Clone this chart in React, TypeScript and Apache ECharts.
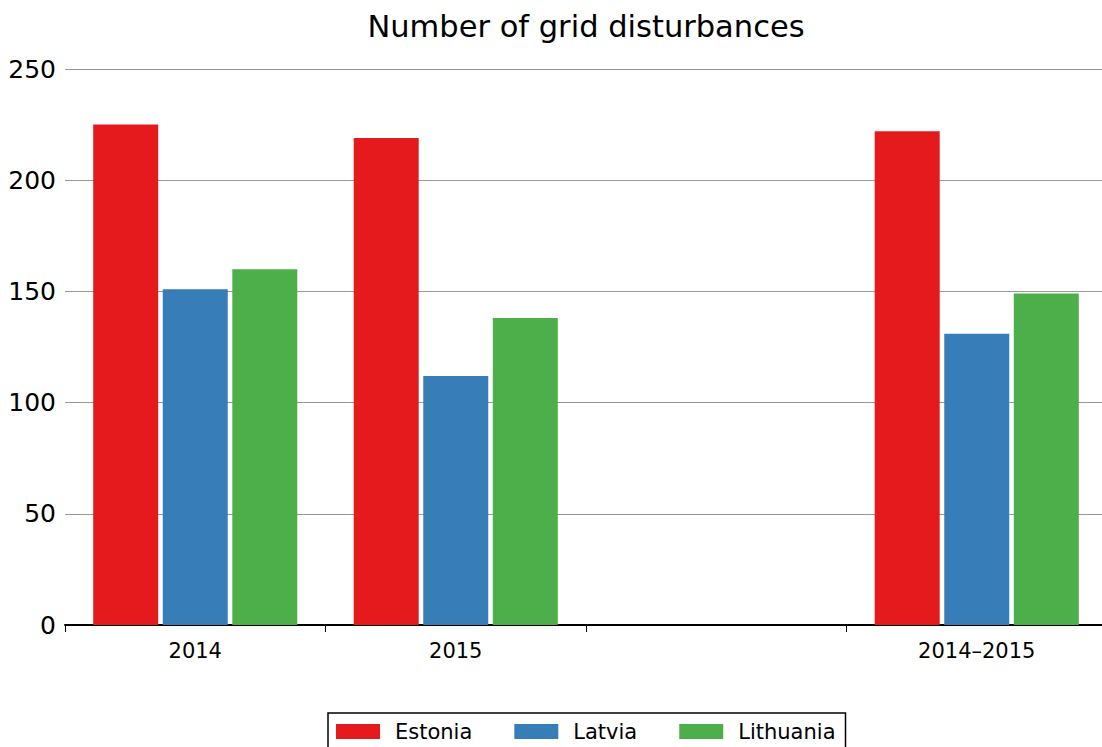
import React, { useEffect, useRef } from "react";
import * as echarts from "echarts";

const categories = ["2014", "2015", "", "2014–2015"];
const seriesNames = ["Estonia", "Latvia", "Lithuania"];
const estonia = [225, 219, null, 222];
const latvia = [151, 112, null, 131];
const lithuania = [160, 138, null, 149];
const colors = ["#e41a1c", "#377eb8", "#4daf4a"];
const yTicks = { min: 0, max: 250, interval: 50 };

const FONT = "DejaVu Sans";

export default function App() {
  const ref = useRef<HTMLDivElement>(null);
  useEffect(() => {
    if (!ref.current) return;
    const chart = echarts.init(ref.current, undefined, { renderer: "svg" });
    const values = [estonia, latvia, lithuania];
    chart.setOption({
      animation: false,
      backgroundColor: "#fff",
      textStyle: { fontFamily: FONT },
      title: {
        text: "Number of grid disturbances",
        left: 581,
        top: 6,
        textAlign: "center",
        textStyle: { fontFamily: FONT, fontSize: 30.5, fontWeight: "normal", color: "#000" },
      },
      legend: {
        data: seriesNames,
        left: 328,
        top: 713,
        orient: "horizontal",
        icon: "rect",
        itemWidth: 44,
        itemHeight: 15,
        itemGap: 42,
        padding: [8, 10, 8, 8],
        borderColor: "#000",
        borderWidth: 1.5,
        textStyle: { fontFamily: FONT, fontSize: 21, color: "#000", padding: [0, 0, 0, 10] },
      },
      grid: { left: 65, right: 0, top: 69, bottom: 122, containLabel: false },
      xAxis: {
        type: "category",
        data: categories,
        boundaryGap: true,
        axisLine: { show: true, lineStyle: { color: "#000", width: 2 } },
        axisTick: { show: true, alignWithLabel: false, length: 7, lineStyle: { color: "#000", width: 1 } },
        axisLabel: { fontFamily: FONT, fontSize: 21, color: "#000", margin: 15 },
        splitLine: { show: false },
      },
      yAxis: {
        type: "value",
        min: yTicks.min,
        max: yTicks.max,
        interval: yTicks.interval,
        axisLine: { show: false },
        axisTick: { show: false },
        axisLabel: { fontFamily: FONT, fontSize: 25, color: "#000", margin: 9 },
        splitLine: { show: true, lineStyle: { color: "#999", width: 1 } },
      },
      series: seriesNames.map((name, i) => ({
        name,
        type: "bar",
        data: values[i],
        barWidth: 65,
        barGap: "7%",
        itemStyle: { color: colors[i] },
      })),
    });
    return () => chart.dispose();
  }, []);
  return (
    <div
      ref={ref}
      style={{ position: "fixed", left: 0, top: 0, width: 1107, height: 747 }}
    />
  );
}
